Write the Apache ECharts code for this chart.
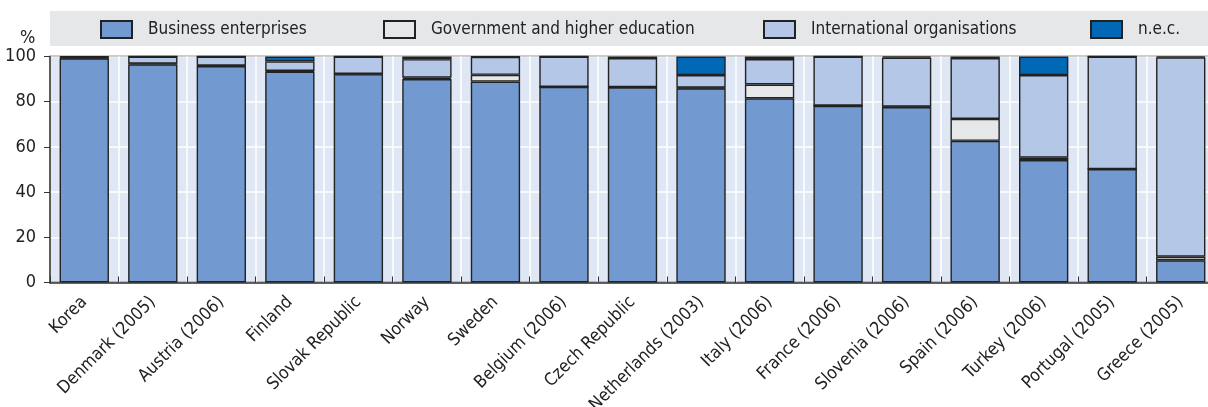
<!DOCTYPE html>
<html>
<head>
<meta charset="utf-8">
<script src="https://cdn.jsdelivr.net/npm/echarts@6/dist/echarts.min.js"></script>
<style>
html,body{margin:0;padding:0;background:#fff;}
#chart{width:1208px;height:407px;}
</style>
</head>
<body>
<div id="chart"></div>
<script>
const categories = ["Korea","Denmark (2005)","Austria (2006)","Finland","Slovak Republic","Norway","Sweden","Belgium (2006)","Czech Republic","Netherlands (2003)","Italy (2006)","France (2006)","Slovenia (2006)","Spain (2006)","Turkey (2006)","Portugal (2005)","Greece (2005)"];
const business      = [99.2, 96.5, 95.8, 93.3, 92.2, 90.0, 88.9, 86.6, 86.3, 85.9, 81.5, 78.2, 77.6, 62.7, 54.2, 50.2, 9.8];
const government    = [0.3, 0.3, 0.2, 0.3, 0.1, 0.6, 3.0, 0.0, 0.1, 0.3, 6.1, 0.0, 0.2, 9.7, 1.0, 0.0, 1.6];
const international = [0.3, 3.2, 4.0, 4.2, 7.7, 8.2, 8.0, 13.4, 12.9, 5.6, 11.3, 21.8, 21.7, 26.9, 36.6, 49.8, 88.2];
const nec           = [0.2, 0.0, 0.0, 2.2, 0.0, 1.2, 0.1, 0.0, 0.7, 8.2, 1.1, 0.0, 0.5, 0.7, 8.2, 0.0, 0.4];
const yTicks = [0, 20, 40, 60, 80, 100];

const FONT = "'Liberation Sans Narrow','DejaVu Sans Condensed','Arial Narrow',sans-serif";
const names = ["Business enterprises","Government and higher education","International organisations","n.e.c."];
const colors = ["#7299d0","#e6e7e8","#b4c7e7","#0068b5"];
const datas = [business, government, international, nec];
const legendLeft = [100, 383, 763, 1090];

const chart = echarts.init(document.getElementById('chart'), null, {renderer:'canvas'});
const option = {
  animation: false,
  textStyle: {fontFamily: FONT},
  graphic: [
    {type:'rect', left:50, top:11, shape:{width:1158, height:35}, style:{fill:'#e6e7e9'}, z:-1},
    {type:'text', left:20, top:29, style:{text:'%', font:'18px ' + FONT, fill:'#222'}}
  ],
  legend: names.map((n,i)=>({
    data:[n], left: legendLeft[i], top: 20, itemWidth: 31, itemHeight: 17, itemGap: 13,
    icon: 'rect', padding: 0,
    textStyle:{fontSize:17, color:'#222', fontFamily: FONT, padding:[0,0,0,11]},
    selectedMode:false
  })),
  grid: {
    left: 50, right: -7, top: 56.5, bottom: 124.5,
    containLabel: false, outerBoundsMode: 'none',
    show: true, backgroundColor: '#dfe6f4', borderColor: '#333', borderWidth: 1.5
  },
  xAxis: {
    type: 'category', data: categories,
    axisLine: {show:true, lineStyle:{color:'#333', width:1.5}},
    axisTick: {show:true, inside:true, length:6, lineStyle:{color:'#333'}},
    splitLine: {show:true, lineStyle:{color:'#ffffff', width:1.5}},
    axisLabel: {rotate:45, fontSize:17.5, color:'#222', fontFamily: FONT, margin:17, interval:0}
  },
  yAxis: {
    type: 'value', min: 0, max: 100, interval: 20,
    axisLine: {show:true, lineStyle:{color:'#333', width:1.5}},
    axisTick: {show:true, length:6, lineStyle:{color:'#333'}},
    splitLine: {show:true, lineStyle:{color:'#ffffff', width:1.5}},
    axisLabel: {fontSize:18, color:'#222', fontFamily: FONT, margin:14,
      formatter: v => yTicks.includes(v) ? String(v) : ''}
  },
  series: names.map((n,i)=>({
    name: n, type: 'bar', stack: 'total', data: datas[i], barWidth: '72%',
    itemStyle: {color: colors[i], borderColor: '#222', borderWidth: 1.4}
  }))
};
chart.setOption(option);
</script>
</body>
</html>
